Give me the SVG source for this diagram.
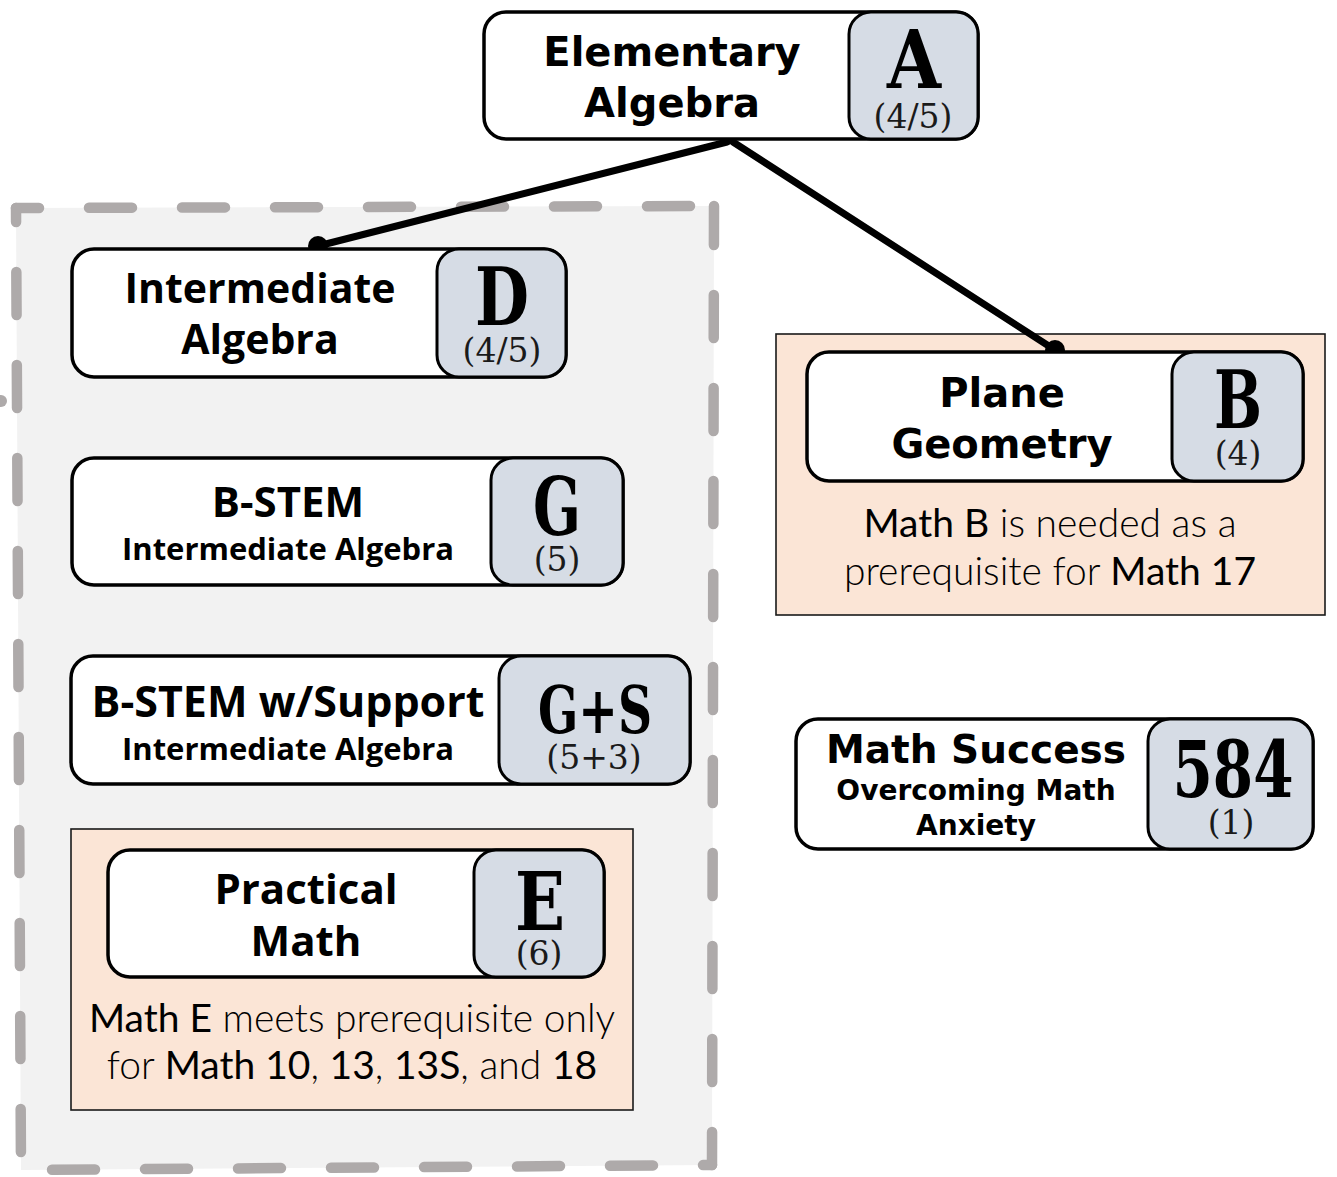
<svg xmlns="http://www.w3.org/2000/svg" width="1337" height="1177" viewBox="0 0 1337 1177">
<style>
.box{fill:#ffffff;stroke:#000;stroke-width:3.5}
.badge{fill:#d6dce5;stroke:#000;stroke-width:3}
.note{fill:#fbe5d6;stroke:#1a1a1a;stroke-width:1.6}
.dash{fill:none;stroke:#aeaaaa;stroke-width:10.5;stroke-linecap:round;stroke-dasharray:43 50}
.wide{font-family:"DejaVu Sans","Liberation Sans",sans-serif;font-weight:bold;text-anchor:middle;fill:#000}
.cond{font-family:"Open Sans","Noto Sans",sans-serif;font-weight:bold;text-anchor:middle;fill:#000}
.big{font-family:"DejaVu Serif","Liberation Serif",serif;font-weight:bold;text-anchor:middle;fill:#000}
.num{font-family:"DejaVu Serif","Liberation Serif",serif;font-size:33px;text-anchor:middle;fill:#1a1a1a}
.ntext{font-family:Lato,"Open Sans",sans-serif;font-size:39px;font-weight:300;text-anchor:middle;fill:#000}
.nb{font-weight:400}
.conn{stroke:#000;stroke-width:7;fill:none;stroke-linecap:round}
</style>

<g id="group-container">
  <polygon points="16,208 714,206 712,1165 21,1170" fill="#f2f2f2"/>
  <path class="dash" d="M16,208 L714,206" stroke-dashoffset="20"/>
  <path class="dash" d="M714,206 L712,1165" stroke-dashoffset="4"/>
  <path class="dash" d="M712,1165 L21,1170" stroke-dashoffset="34"/>
  <path class="dash" d="M16,208 L21,1170" stroke-dashoffset="29"/>
  <circle cx="1" cy="401" r="6" fill="#aeaaaa"/>
</g>

<g id="note-B">
  <rect class="note" x="776" y="334" width="549" height="281"/>
  <text class="ntext" x="1050" y="537"><tspan class="nb">Math B</tspan> is needed as a</text>
  <text class="ntext" x="1050" y="585">prerequisite for <tspan class="nb">Math 17</tspan></text>
</g>

<g id="note-E">
  <rect class="note" x="71" y="829" width="562" height="281"/>
  <text class="ntext" x="352" y="1032"><tspan class="nb">Math E</tspan> meets prerequisite only</text>
  <text class="ntext" x="352" y="1079">for <tspan class="nb">Math 10</tspan>, <tspan class="nb">13</tspan>, <tspan class="nb">13S</tspan>, and <tspan class="nb">18</tspan></text>
</g>

<g id="connectors">
  <line class="conn" x1="727" y1="142" x2="318" y2="246"/>
  <line class="conn" x1="733" y1="142" x2="1055" y2="350"/>
  <circle cx="318" cy="246" r="10" fill="#000"/>
  <circle cx="1055" cy="350" r="10" fill="#000"/>
</g>

<g id="node-A">
  <rect class="box" x="484" y="12" width="494" height="127" rx="22"/>
  <rect class="badge" x="849" y="12" width="129" height="127" rx="22"/>
  <text class="wide" x="672" y="66" font-size="40">Elementary</text>
  <text class="wide" x="672" y="117" font-size="40">Algebra</text>
  <text class="big" x="914" y="88" font-size="80" textLength="54" lengthAdjust="spacingAndGlyphs">A</text>
  <text class="num" x="913" y="128">(4/5)</text>
</g>

<g id="node-D">
  <rect class="box" x="72" y="249" width="494" height="128" rx="22"/>
  <rect class="badge" x="437" y="249" width="129" height="128" rx="22"/>
  <text class="cond" x="260" y="303" font-size="41">Intermediate</text>
  <text class="cond" x="260" y="354" font-size="41">Algebra</text>
  <text class="big" x="502" y="325" font-size="80" textLength="54" lengthAdjust="spacingAndGlyphs">D</text>
  <text class="num" x="502" y="362">(4/5)</text>
</g>

<g id="node-B">
  <rect class="box" x="807" y="352" width="496" height="129" rx="22"/>
  <rect class="badge" x="1172" y="352" width="131" height="129" rx="22"/>
  <text class="wide" x="1002" y="407" font-size="40">Plane</text>
  <text class="wide" x="1002" y="458" font-size="40">Geometry</text>
  <text class="big" x="1238" y="428" font-size="80" textLength="48" lengthAdjust="spacingAndGlyphs">B</text>
  <text class="num" x="1238" y="465">(4)</text>
</g>

<g id="node-G">
  <rect class="box" x="72" y="458" width="551" height="127" rx="22"/>
  <rect class="badge" x="491" y="458" width="132" height="127" rx="22"/>
  <text class="cond" x="288" y="517" font-size="42">B-STEM</text>
  <text class="cond" x="288" y="560" font-size="31">Intermediate Algebra</text>
  <text class="big" x="557" y="535" font-size="80" textLength="48" lengthAdjust="spacingAndGlyphs">G</text>
  <text class="num" x="557" y="571">(5)</text>
</g>

<g id="node-GS">
  <rect class="box" x="71" y="656" width="619" height="128" rx="22"/>
  <rect class="badge" x="499" y="656" width="191" height="128" rx="22"/>
  <text class="cond" x="288" y="717" font-size="43">B-STEM w/Support</text>
  <text class="cond" x="288" y="760" font-size="31">Intermediate Algebra</text>
  <text class="big" x="595" y="733" font-size="66" textLength="114" lengthAdjust="spacingAndGlyphs">G+S</text>
  <text class="num" x="594" y="769">(5+3)</text>
</g>

<g id="node-E">
  <rect class="box" x="108" y="850" width="496" height="127" rx="22"/>
  <rect class="badge" x="474" y="850" width="130" height="127" rx="22"/>
  <text class="cond" x="306" y="904" font-size="42">Practical</text>
  <text class="cond" x="306" y="956" font-size="42">Math</text>
  <text class="big" x="540" y="930" font-size="80" textLength="50" lengthAdjust="spacingAndGlyphs">E</text>
  <text class="num" x="539" y="965">(6)</text>
</g>

<g id="node-584">
  <rect class="box" x="796" y="719" width="517" height="130" rx="22"/>
  <rect class="badge" x="1148" y="719" width="165" height="130" rx="22"/>
  <text class="wide" x="976" y="763" font-size="39">Math Success</text>
  <text class="wide" x="976" y="800" font-size="28">Overcoming Math</text>
  <text class="wide" x="976" y="835" font-size="28">Anxiety</text>
  <text class="big" x="1233" y="797" font-size="78" textLength="121" lengthAdjust="spacingAndGlyphs">584</text>
  <text class="num" x="1231" y="834">(1)</text>
</g>
</svg>
